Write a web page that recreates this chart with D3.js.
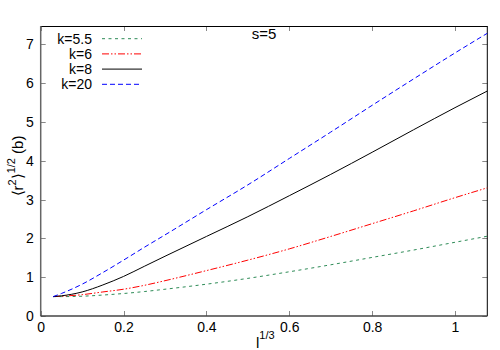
<!DOCTYPE html>
<html>
<head>
<meta charset="utf-8">
<script src="https://cdn.jsdelivr.net/npm/d3@7"></script>
<style>
    body { margin: 0; background: #fff; }
    svg { display: block; font-family: "Liberation Sans", Arial, sans-serif; }
</style>
</head>
<body>
<svg></svg>
<script>
// Set variables

let xValues = [0.03, 0.05, 0.1, 0.15, 0.2, 0.25, 0.3, 0.4, 0.5, 0.6, 0.7, 0.8, 0.9, 1.0, 1.08]
let k55Values = [0.50, 0.50, 0.51, 0.54, 0.58, 0.63, 0.69, 0.82, 0.97, 1.14, 1.32, 1.51, 1.70, 1.90, 2.06]
let k6Values = [0.50, 0.51, 0.55, 0.62, 0.69, 0.79, 0.91, 1.17, 1.44, 1.73, 2.05, 2.38, 2.71, 3.05, 3.31]
let k8Values = [0.50, 0.52, 0.62, 0.80, 1.02, 1.28, 1.54, 2.05, 2.56, 3.10, 3.65, 4.22, 4.80, 5.37, 5.81]
let k20Values = [0.50, 0.58, 0.82, 1.12, 1.44, 1.77, 2.09, 2.74, 3.38, 4.06, 4.74, 5.43, 6.11, 6.78, 7.30]

let seriesNames = ['k=5.5', 'k=6', 'k=8', 'k=20']
let xTicks = [0, 0.2, 0.4, 0.6, 0.8, 1]
let yTicks = [0, 1, 2, 3, 4, 5, 6, 7]

let width = 500
let height = 350
let plotLeft = 40.7
let plotRight = 487.3
let plotTop = 26
let plotBottom = 316

let xScale
let yScale

let svg = d3.select('svg')

// Draw canvas

let drawCanvas = () => {
    svg.attr('width', width)
    svg.attr('height', height)
}

// Generate scales

let generateScales = () => {
    xScale = d3.scaleLinear()
                .domain([0, 1.078])
                .range([plotLeft, plotRight])

    yScale = d3.scaleLinear()
                .domain([0, 7.475])
                .range([plotBottom, plotTop])
}

// Draw the frame, ticks and tick labels

let generateAxes = () => {

    let tickLen = 5

    let xAxis = d3.axisBottom(xScale)
                    .tickValues(xTicks)
                    .tickSize(0)
                    .tickPadding(6)
                    .tickFormat(d3.format('~g'))

    let xg = svg.append('g')
        .attr('transform', 'translate(0, ' + plotBottom + ')')
        .call(xAxis)
    xg.select('.domain').remove()
    xg.selectAll('text')
        .attr('font-size', 14)
        .attr('font-family', '"Liberation Sans", Arial, sans-serif')
        .attr('fill', '#000')

    let yAxis = d3.axisLeft(yScale)
                    .tickValues(yTicks)
                    .tickSize(0)
                    .tickPadding(7)

    let yg = svg.append('g')
        .attr('transform', 'translate(' + plotLeft + ', 0)')
        .call(yAxis)
    yg.select('.domain').remove()
    yg.selectAll('text')
        .attr('font-size', 14)
        .attr('font-family', '"Liberation Sans", Arial, sans-serif')
        .attr('fill', '#000')

    // inward ticks, mirrored on top and right
    let ticks = svg.append('g').attr('stroke', '#888').attr('stroke-width', 1)

    xTicks.forEach((t) => {
        let x = Math.round(xScale(t)) + 0.5
        ticks.append('line').attr('x1', x).attr('x2', x).attr('y1', plotBottom).attr('y2', plotBottom - tickLen)
        ticks.append('line').attr('x1', x).attr('x2', x).attr('y1', plotTop).attr('y2', plotTop + tickLen)
    })

    yTicks.forEach((t) => {
        let y = Math.round(yScale(t)) + 0.5
        ticks.append('line').attr('x1', plotLeft).attr('x2', plotLeft + tickLen).attr('y1', y).attr('y2', y)
        ticks.append('line').attr('x1', plotRight).attr('x2', plotRight - tickLen).attr('y1', y).attr('y2', y)
    })

    // frame
    svg.append('line').attr('x1', plotLeft).attr('x2', plotRight).attr('y1', plotTop + 0.5).attr('y2', plotTop + 0.5)
        .attr('stroke', '#000')
    svg.append('line').attr('x1', plotRight).attr('x2', plotRight).attr('y1', plotTop).attr('y2', plotBottom)
        .attr('stroke', '#000')
    svg.append('line').attr('x1', plotLeft).attr('x2', plotLeft).attr('y1', plotTop).attr('y2', plotBottom)
        .attr('stroke', '#666').attr('stroke-width', 1.5)
    svg.append('line').attr('x1', plotLeft).attr('x2', plotRight).attr('y1', plotBottom).attr('y2', plotBottom)
        .attr('stroke', '#444').attr('stroke-width', 1.5)
}

// Draw the curves

let styles = [
    { color: '#2e8b57', dash: '3,3.5' },
    { color: '#ff0000', dash: '7,2,1.5,2,1.5,2' },
    { color: '#000000', dash: null },
    { color: '#0000ff', dash: '5,3' }
]

let drawLines = () => {

    let series = [k55Values, k6Values, k8Values, k20Values]

    svg.append('clipPath')
        .attr('id', 'clip')
        .append('rect')
        .attr('x', plotLeft)
        .attr('y', plotTop)
        .attr('width', plotRight - plotLeft)
        .attr('height', plotBottom - plotTop)

    let line = d3.line()
                .x((d, i) => xScale(xValues[i]))
                .y((d) => yScale(d))
                .curve(d3.curveMonotoneX)

    svg.append('g')
        .attr('clip-path', 'url(#clip)')
        .selectAll('path')
        .data(series)
        .enter()
        .append('path')
        .attr('d', (d) => line(d))
        .attr('fill', 'none')
        .attr('stroke', (d, i) => styles[i].color)
        .attr('stroke-width', 1)
        .attr('stroke-dasharray', (d, i) => styles[i].dash)

    // legend
    let legend = svg.append('g')
    seriesNames.forEach((name, i) => {
        let y = 38.7 + i * 15.2
        legend.append('text')
            .attr('x', 92)
            .attr('y', y + 5)
            .attr('text-anchor', 'end')
            .attr('font-size', 14)
            .text(name)
        legend.append('line')
            .attr('x1', 102)
            .attr('x2', 142)
            .attr('y1', y)
            .attr('y2', y)
            .attr('stroke', styles[i].color)
            .attr('stroke-width', 1)
            .attr('stroke-dasharray', styles[i].dash)
    })
}

// Labels

let drawLabels = () => {

    svg.append('text')
        .attr('x', 264)
        .attr('y', 39)
        .attr('text-anchor', 'middle')
        .attr('font-size', 15)
        .text('s=5')

    let xl = svg.append('text')
        .attr('x', 256)
        .attr('y', 348)
        .attr('font-size', 15)
    xl.append('tspan').text('l')
    xl.append('tspan').attr('dy', -9).attr('font-size', 11).text('1/3')

    let yl = svg.append('text')
        .attr('transform', 'translate(23, 166) rotate(-90)')
        .attr('text-anchor', 'middle')
        .attr('font-size', 15)
    yl.append('tspan').text('\u27E8r')
    yl.append('tspan').attr('dy', -7).attr('font-size', 11).text('2')
    yl.append('tspan').attr('dy', 7).text('\u27E9')
    yl.append('tspan').attr('dy', -8).attr('font-size', 11).text('1/2')
    yl.append('tspan').attr('dy', 8).text(' (b)')
}

drawCanvas()
generateScales()
generateAxes()
drawLines()
drawLabels()
</script>
</body>
</html>
